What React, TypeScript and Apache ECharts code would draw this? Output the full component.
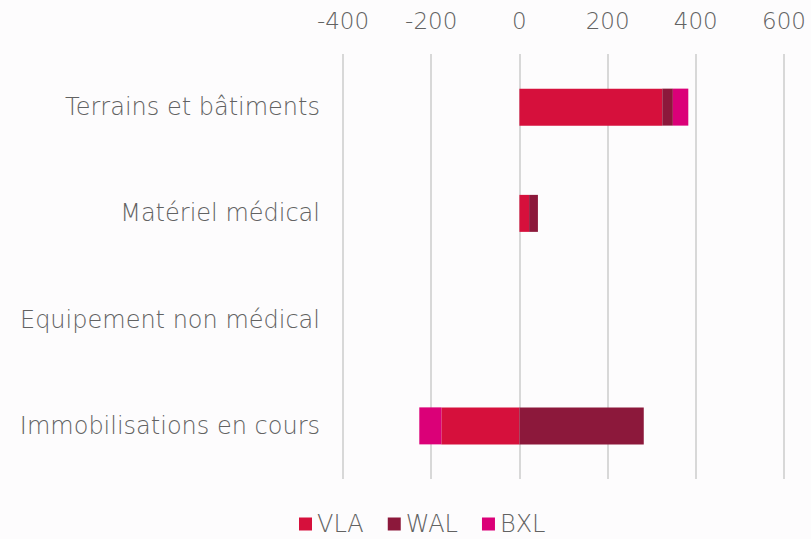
import React, { useEffect, useRef } from "react";
import * as echarts from "echarts";

const categories = [
  "Terrains et bâtiments",
  "Matériel médical",
  "Equipement non médical",
  "Immobilisations en cours",
];
const seriesNames = ["VLA", "WAL", "BXL"];
const vlaValues = [324, 22, 0, -177];
const walValues = [24, 20, 0, 282];
const bxlValues = [35, 0, 0, -50];
const colors = ["#D6103C", "#8C183B", "#DB0078"];
const xTicks = { min: -400, max: 600, interval: 200 };

export default function App() {
  const ref = useRef<HTMLDivElement>(null);
  useEffect(() => {
    document.body.style.margin = "0";
    const chart = echarts.init(ref.current!, null, { renderer: "svg" });
    const font = "'DejaVu Sans', 'Open Sans', sans-serif";
    const data = [vlaValues, walValues, bxlValues];
    chart.setOption({
      animation: false,
      backgroundColor: "#fdfcfd",
      textStyle: { fontFamily: font },
      grid: { left: 343, right: 27, top: 54, bottom: 60, containLabel: false },
      legend: {
        bottom: -2,
        left: 294,
        icon: "rect",
        itemWidth: 13,
        itemHeight: 13,
        itemGap: 24,
        textStyle: { fontSize: 24, color: "#626262", fontFamily: font, fontWeight: 200 },
        data: seriesNames,
      },
      xAxis: {
        type: "value",
        position: "top",
        min: xTicks.min,
        max: xTicks.max,
        interval: xTicks.interval,
        axisLine: { show: false },
        axisTick: { show: false },
        axisLabel: { fontSize: 23, color: "#626262", margin: 22, fontFamily: font, fontWeight: 200 },
        splitLine: { lineStyle: { color: "#d8d8d8", width: 2 } },
      },
      yAxis: {
        type: "category",
        inverse: true,
        data: categories,
        axisLine: { show: false },
        axisTick: { show: false },
        axisLabel: { fontSize: 24, color: "#626262", margin: 23, fontFamily: font, fontWeight: 200 },
      },
      series: seriesNames.map((name, i) => ({
        name,
        type: "bar",
        stack: "total",
        barWidth: 37,
        itemStyle: { color: colors[i] },
        data: data[i],
      })),
    });
    return () => chart.dispose();
  }, []);
  return <div ref={ref} style={{ width: 811, height: 539 }} />;
}
